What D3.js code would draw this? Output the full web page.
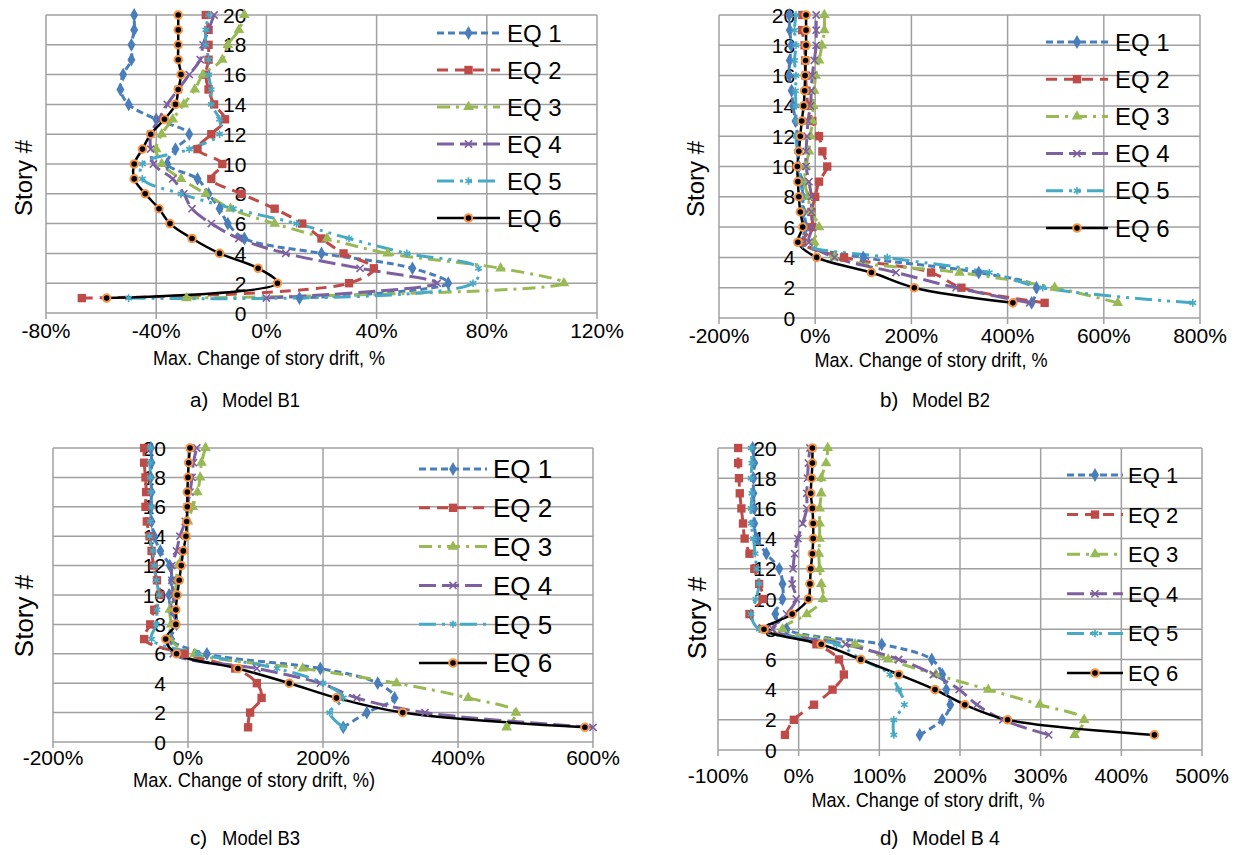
<!DOCTYPE html>
<html>
<head>
<meta charset="utf-8">
<script src="https://cdn.jsdelivr.net/npm/d3@7"></script>
<style>
  body { margin: 0; background: #fff; }
  svg { font-family: "Liberation Sans", Arial, sans-serif; }
</style>
</head>
<body>
<div id="chart"></div>
<script>
// story numbers (1..20) and y tick labels
var stories = d3.range(1, 21);
var storyTicks = d3.range(0, 21, 2);
var seriesNames = ["EQ 1", "EQ 2", "EQ 3", "EQ 4", "EQ 5", "EQ 6"];

// max change of story drift (%), story 1 -> 20, one row per EQ
var modelB1 = [
  [12, 66, 53, 20, -8, -14, -17, -21, -25, -36, -33, -28, -40, -50, -53, -52, -49, -49, -48, -48],
  [-67, 30, 39, 28, 20, 13, 3, -9, -20, -16, -25, -20, -15, -19, -21, -22, -21, -21, -21, -22],
  [-29, 108, 85, 44, 22, 3, -13, -22, -31, -38, -40, -38, -34, -30, -26, -23, -16, -14, -10, -8],
  [0, 62, 34, 7, -10, -20, -27, -30, -34, -41, -42, -42, -39, -36, -32, -28, -24, -23, -21, -19],
  [-50, 75, 77, 51, 30, 11, -12, -31, -45, -45, -28, -17, -17, -20, -20, -21, -21, -22, -22, -21],
  [-58, 4, -3, -17, -27, -35, -39, -44, -48, -48, -45, -42, -37, -33, -32, -31, -32, -32, -32, -32]
];
var modelB2 = [
  [450, 460, 340, 100, -26, -19, -24, -26, -28, -34, -36, -37, -41, -46, -49, -54, -53, -50, -53, -54],
  [477, 304, 241, 60, -27, -6, -8, 0, 8, 25, 15, 8, -6, -15, -18, -20, -21, -22, -27, -27],
  [629, 498, 300, 40, -2, 8, -8, -15, -22, -19, -13, -10, -6, -4, -2, 1, 8, 14, 19, 19],
  [446, 293, 168, 40, -13, -6, -8, -8, -13, -19, -19, -17, -15, -10, -8, -6, -2, 2, 2, 2],
  [785, 473, 362, 150, -30, -26, -27, -26, -30, -33, -37, -40, -40, -40, -41, -40, -43, -40, -43, -40],
  [411, 206, 117, 3, -36, -26, -31, -34, -36, -37, -34, -31, -28, -24, -22, -21, -20, -19, -19, -19]
];
var modelB3 = [
  [230, 265, 306, 281, 196, 28, -25, -17, -25, -28, -24, -27, -41, -50, -54, -55, -54, -55, -54, -55],
  [89, 92, 109, 102, 70, -5, -65, -56, -50, -41, -46, -51, -54, -57, -61, -63, -62, -63, -65, -65],
  [472, 486, 415, 309, 170, 10, -27, -25, -27, -20, -17, -15, -7, -3, 0, 7, 14, 18, 20, 26],
  [600, 351, 250, 196, 102, -22, -30, -19, -21, -22, -24, -24, -17, -12, -4, -1, 3, 6, 8, 13],
  [230, 210, 230, 200, 132, 15, -54, -47, -46, -43, -47, -50, -52, -57, -56, -54, -55, -56, -56, -56],
  [588, 318, 220, 150, 74, -17, -33, -18, -18, -16, -13, -10, -7, -3, -2, -1, -1, 0, 1, 3]
];
var modelB4 = [
  [150, 178, 188, 183, 178, 165, 103, -15, -29, -20, -20, -24, -40, -52, -55, -55, -56, -56, -55, -57],
  [-17, -6, 19, 42, 56, 50, 22, -42, -61, -44, -49, -55, -61, -67, -69, -71, -73, -74, -75, -75],
  [342, 354, 299, 235, 170, 111, 70, -20, 10, 30, 28, 26, 25, 26, 26, 26, 28, 28, 34, 36],
  [310, 253, 221, 199, 167, 124, 58, -32, -15, -3, -8, -7, -5, -1, 5, 10, 10, 11, 12, 14],
  [118, 118, 131, 124, 113, 78, 47, -49, -59, -53, -49, -52, -54, -56, -59, -59, -58, -59, -58, -59],
  [441, 259, 206, 169, 124, 77, 28, -43, -8, 12, 14, 15, 17, 18, 18, 17, 15, 16, 17, 17]
];

// x ticks per model
var ticksB1 = d3.range(-80, 121, 40);
var ticksB2 = d3.range(-200, 801, 200);
var ticksB3 = d3.range(-200, 601, 200);
var ticksB4 = d3.range(-100, 501, 100);

//-----------------------------------------------------------------------

var colors = ["#4a7ebb", "#be4b48", "#98b954", "#7d60a0", "#46aac5", "#000000"];
var dashes = ["7,4", "11,7", "13,6,3,6", "17,6", "17,6,3,6,3,6", "none"];
var symbols = [d3.symbolDiamond, d3.symbolSquare, d3.symbolTriangle, d3.symbolX, d3.symbolAsterisk, d3.symbolCircle];
var symSize = [55, 70, 50, 35, 40, 45];

var svg = d3.select("#chart").append("svg")
  .attr("width", 1238).attr("height", 855);

var panels = [
  { data: modelB1, ticks: ticksB1, dom: [-80, 120], x0: 46, x1: 597, top: 15, bot: 313,
    tickY: 338, titleX: 269, titleY: 365, titleW: 232, storyX: 23, storyY: 178, storyFs: 24,
    cap: ["a)", "Model B1"], capX: 190, capY: 407, capW: 78,
    leg: { x0: 437, x1: 500, tx: 507, y0: 33, dy: 37, fs: 24 }, tlOff: 20 },
  { data: modelB2, ticks: ticksB2, dom: [-200, 800], x0: 719, x1: 1200, top: 15, bot: 318,
    tickY: 343, titleX: 931, titleY: 367, titleW: 233, storyX: 695, storyY: 179, storyFs: 24,
    cap: ["b)", "Model B2"], capX: 880, capY: 407, capW: 78,
    leg: { x0: 1046, x1: 1108, tx: 1115, y0: 42, dy: 37.2, fs: 24 }, tlOff: 20 },
  { data: modelB3, ticks: ticksB3, dom: [-200, 600], x0: 53, x1: 593, top: 448, bot: 742,
    tickY: 765, titleX: 254, titleY: 787, titleW: 242, storyX: 24, storyY: 616, storyFs: 26,
    cap: ["c)", "Model B3"], capX: 190, capY: 845, capW: 78,
    leg: { x0: 419, x1: 487, tx: 493, y0: 469, dy: 38.8, fs: 26 }, tlOff: 22 },
  { data: modelB4, ticks: ticksB4, dom: [-100, 500], x0: 718, x1: 1202, top: 448, bot: 750,
    tickY: 783, titleX: 928, titleY: 807, titleW: 233, storyX: 697, storyY: 618, storyFs: 26,
    cap: ["d)", "Model B 4"], capX: 880, capY: 845, capW: 88,
    leg: { x0: 1067, x1: 1123, tx: 1128, y0: 475, dy: 39.6, fs: 22 }, tlOff: 22 }
];

function drawPanel(p)
{
  var x = d3.scaleLinear().domain(p.dom).range([p.x0, p.x1]);
  var y = d3.scaleLinear().domain([0, 20]).range([p.bot, p.top]);
  var g = svg.append("g");
  var grid = "#a0a0a0";

  // vertical gridlines + tick marks
  g.selectAll(".vg").data(p.ticks).enter().append("line")
    .attr("x1", function(d) { return x(d); }).attr("x2", function(d) { return x(d); })
    .attr("y1", p.top).attr("y2", p.bot + 6)
    .attr("stroke", grid).attr("stroke-width", 1.5);

  // horizontal gridlines
  g.selectAll(".hg").data(storyTicks).enter().append("line")
    .attr("x1", p.x0).attr("x2", p.x1)
    .attr("y1", function(d) { return y(d); }).attr("y2", function(d) { return y(d); })
    .attr("stroke", grid).attr("stroke-width", 1.5);

  // x tick labels
  g.selectAll(".xl").data(p.ticks).enter().append("text")
    .attr("x", function(d) { return x(d); }).attr("y", p.tickY)
    .attr("text-anchor", "middle").attr("font-size", 21)
    .text(function(d) { return d + "%"; });

  // y tick labels (sitting at the 0% axis)
  g.selectAll(".yl").data(storyTicks).enter().append("text")
    .attr("x", x(0) - p.tlOff).attr("y", function(d) { return y(d); })
    .attr("dy", "0.36em").attr("text-anchor", "end").attr("font-size", 21)
    .text(function(d) { return d; });

  // axis titles
  g.append("text")
    .attr("x", p.titleX).attr("y", p.titleY)
    .attr("text-anchor", "middle").attr("font-size", 20.5)
    .attr("textLength", p.titleW).attr("lengthAdjust", "spacingAndGlyphs")
    .text(p.data === modelB3 ? "Max. Change of story drift, %)" : "Max. Change of story drift, %");
  g.append("text")
    .attr("transform", "translate(" + p.storyX + "," + p.storyY + ") rotate(-90)")
    .attr("dy", "0.36em").attr("text-anchor", "middle").attr("font-size", p.storyFs)
    .text("Story #");

  // caption
  g.append("text").attr("x", p.capX).attr("y", p.capY).attr("font-size", 20.5).text(p.cap[0]);
  g.append("text").attr("x", p.capX + 32).attr("y", p.capY).attr("font-size", 20.5)
    .attr("textLength", p.capW).attr("lengthAdjust", "spacingAndGlyphs").text(p.cap[1]);

  // series
  var line = d3.line()
    .x(function(d) { return x(d[0]); })
    .y(function(d) { return y(d[1]); })
    .curve(d3.curveCatmullRom.alpha(0.5));

  p.data.forEach(function(vals, i) {
    var pts = vals.map(function(v, k) { return [v, stories[k]]; });
    g.append("path").datum(pts)
      .attr("d", line).attr("fill", "none")
      .attr("stroke", colors[i]).attr("stroke-width", i == 5 ? 2.5 : 3)
      .attr("stroke-dasharray", dashes[i]);
  });
  p.data.forEach(function(vals, i) {
    var pts = vals.map(function(v, k) { return [v, stories[k]]; });
    g.selectAll(".m" + i).data(pts).enter().append("path")
      .attr("transform", function(d) { return "translate(" + x(d[0]) + "," + y(d[1]) + ")"; })
      .call(styleMarker, i);
  });

  // legend
  var L = p.leg;
  seriesNames.forEach(function(name, i) {
    var ly = L.y0 + i * L.dy;
    g.append("line").attr("x1", L.x0).attr("x2", L.x1).attr("y1", ly).attr("y2", ly)
      .attr("stroke", colors[i]).attr("stroke-width", i == 5 ? 2.5 : 3)
      .attr("stroke-dasharray", dashes[i]);
    g.append("path").attr("transform", "translate(" + ((L.x0 + L.x1) / 2) + "," + ly + ")")
      .call(styleMarker, i);
    g.append("text").attr("x", L.tx).attr("y", ly).attr("dy", "0.36em")
      .attr("font-size", L.fs).text(name);
  });
}

function styleMarker(sel, i)
{
  sel.attr("d", d3.symbol().type(symbols[i]).size(symSize[i]));
  if (i == 3 || i == 4) {
    sel.attr("fill", "none").attr("stroke", colors[i]).attr("stroke-width", 1.6);
  } else if (i == 5) {
    sel.attr("fill", "#000").attr("stroke", "#f79646").attr("stroke-width", 2);
  } else {
    sel.attr("fill", colors[i]);
  }
}

panels.forEach(drawPanel);
</script>
</body>
</html>
